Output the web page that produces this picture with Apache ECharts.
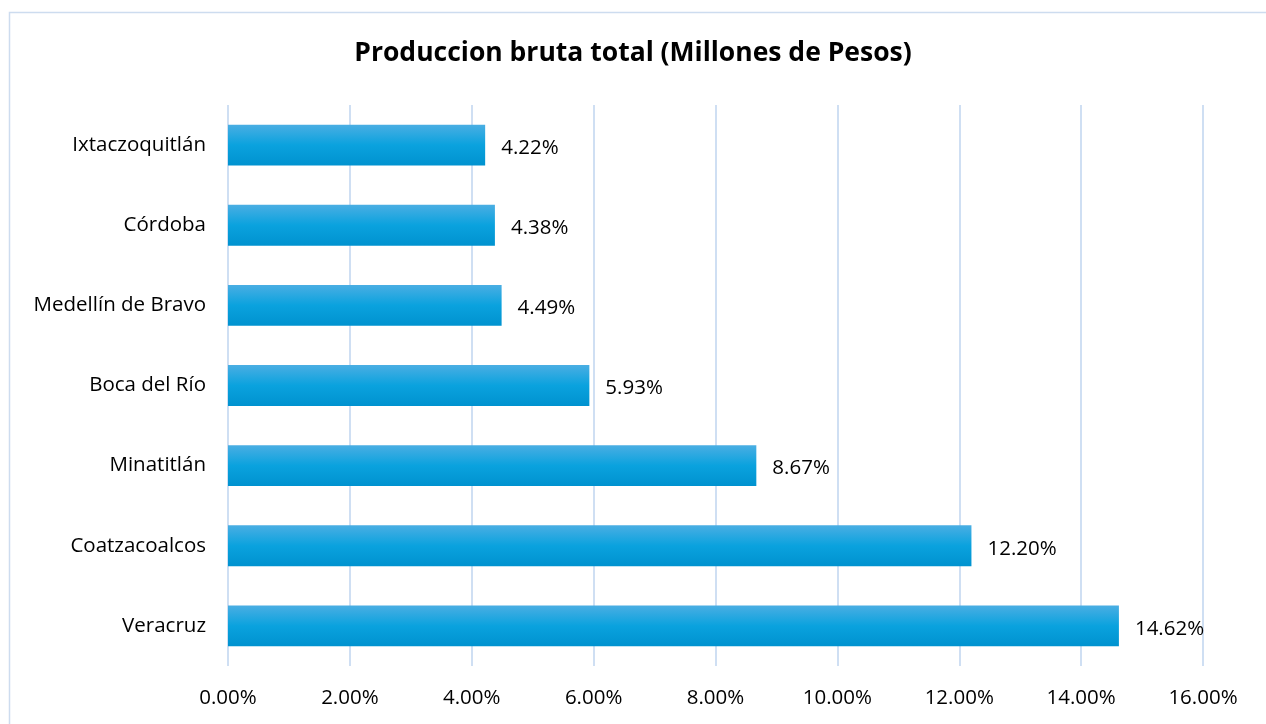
<!DOCTYPE html>
<html>
<head>
<meta charset="utf-8">
<script src="https://cdn.jsdelivr.net/npm/echarts@6/dist/echarts.min.js"></script>
<style>
  html, body { margin: 0; padding: 0; background: #fff; }
  #main { width: 1266px; height: 724px; }
</style>
</head>
<body>
<div id="main"></div>
<script>
// categorias de abajo hacia arriba
const municipios = ['Veracruz', 'Coatzacoalcos', 'Minatitlán', 'Boca del Río', 'Medellín de Bravo', 'Córdoba', 'Ixtaczoquitlán'];
const porcentajes = [14.62, 12.20, 8.67, 5.93, 4.49, 4.38, 4.22];

const fuente = '"Open Sans", sans-serif';

let chart = echarts.init(document.getElementById('main'));
chart.setOption({
  animation: false,
  graphic: [{
    type: 'rect',
    shape: { x: 9.5, y: 12.5, width: 1300, height: 800 },
    style: { fill: 'none', stroke: '#cddcef', lineWidth: 1.5 },
    silent: true
  }],
  title: {
    text: 'Produccion bruta total (Millones de Pesos)',
    left: 'center',
    top: 35,
    textStyle: { fontFamily: fuente, fontSize: 26.5, fontWeight: 'bold', color: '#000' }
  },
  grid: { left: 228, right: 63, top: 105, bottom: 58 },
  xAxis: {
    type: 'value',
    min: 0,
    max: 16,
    interval: 2,
    axisLine: { show: false },
    axisTick: { show: false },
    splitLine: { lineStyle: { color: '#cfdff3', width: 2 } },
    axisLabel: {
      margin: 22,
      fontFamily: fuente,
      fontSize: 20.5,
      color: '#000',
      formatter: v => v.toFixed(2) + '%'
    }
  },
  yAxis: {
    type: 'category',
    data: municipios,
    axisLine: { show: false },
    axisTick: { show: false },
    axisLabel: { margin: 22, fontFamily: fuente, fontSize: 20.5, color: '#000' }
  },
  series: [{
    type: 'bar',
    data: porcentajes,
    barWidth: '51%',
    itemStyle: {
      color: new echarts.graphic.LinearGradient(0, 0, 0, 1, [
        { offset: 0, color: '#4aaee3' },
        { offset: 0.5, color: '#0aa2de' },
        { offset: 1, color: '#0092cf' }
      ])
    },
    label: {
      show: true,
      position: 'right',
      distance: 16,
      offset: [0, 3],
      fontFamily: fuente,
      fontSize: 20.5,
      color: '#000',
      formatter: p => p.value.toFixed(2) + '%'
    }
  }]
});
</script>
</body>
</html>
